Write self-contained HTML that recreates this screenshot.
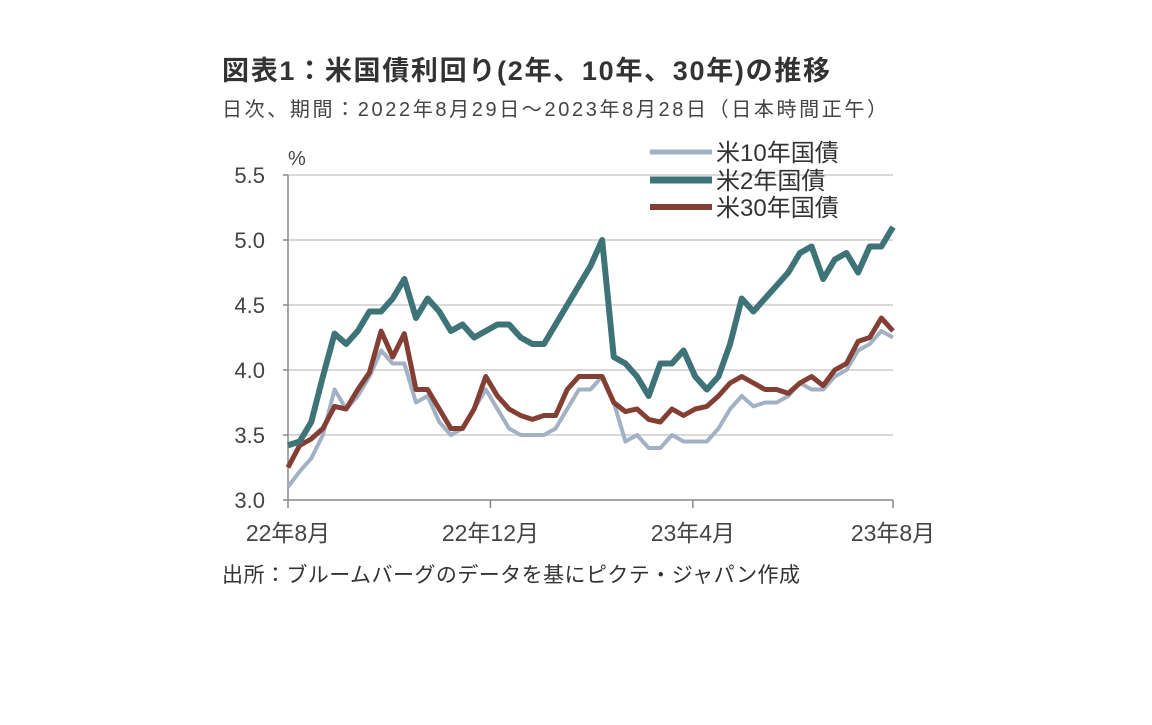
<!DOCTYPE html>
<html><head><meta charset="utf-8"><style>
body{margin:0;background:#fff;width:1152px;height:720px;overflow:hidden;font-family:"Liberation Sans","Noto Sans CJK JP",sans-serif;color:#333}
svg text{font-family:"Liberation Sans","Noto Sans CJK JP",sans-serif}
</style></head><body>
<svg width="1152" height="720">
<text x="222" y="80" font-size="27" font-weight="bold" fill="#333" textLength="608">図表1：米国債利回り(2年、10年、30年)の推移</text>
<text x="222" y="116" font-size="20" fill="#444" textLength="665">日次、期間：2022年8月29日～2023年8月28日（日本時間正午）</text>
<text x="288" y="165" font-size="20" fill="#444">%</text>
<g id="grid"></g><g id="axes"></g><g id="lines"></g>
<g>
<line x1="650" y1="152" x2="712" y2="152" stroke="#a3b1c4" stroke-width="5"/>
<text x="716" y="161" font-size="24" fill="#333">米10年国債</text>
<line x1="650" y1="180" x2="712" y2="180" stroke="#3e7378" stroke-width="7"/>
<text x="716" y="189" font-size="24" fill="#333">米2年国債</text>
<line x1="650" y1="207" x2="712" y2="207" stroke="#843f35" stroke-width="6"/>
<text x="716" y="216" font-size="24" fill="#333">米30年国債</text>
</g>
<text x="222" y="582" font-size="21" fill="#333" textLength="578">出所：ブルームバーグのデータを基にピクテ・ジャパン作成</text>
</svg>
<script>
const yTicks=[3.0,3.5,4.0,4.5,5.0,5.5];
const yTickLabels=["3.0","3.5","4.0","4.5","5.0","5.5"];
const xTickWeeks=[0,17.4,34.8,52];
const xTickLabels=["22年8月","22年12月","23年4月","23年8月"];
const y2=[3.42,3.45,3.6,3.95,4.28,4.2,4.3,4.45,4.45,4.55,4.7,4.4,4.55,4.45,4.3,4.35,4.25,4.3,4.35,4.35,4.25,4.2,4.2,4.35,4.5,4.65,4.8,5.0,4.1,4.05,3.95,3.8,4.05,4.05,4.15,3.95,3.85,3.95,4.2,4.55,4.45,4.55,4.65,4.75,4.9,4.95,4.7,4.85,4.9,4.75,4.95,4.95,5.1];
const y10=[3.1,3.22,3.32,3.5,3.85,3.7,3.8,3.95,4.15,4.05,4.05,3.75,3.8,3.6,3.5,3.55,3.7,3.85,3.7,3.55,3.5,3.5,3.5,3.55,3.7,3.85,3.85,3.95,3.75,3.45,3.5,3.4,3.4,3.5,3.45,3.45,3.45,3.55,3.7,3.8,3.72,3.75,3.75,3.8,3.9,3.85,3.85,3.95,4.0,4.15,4.2,4.3,4.25];
const y30=[3.25,3.42,3.47,3.55,3.72,3.7,3.85,3.98,4.3,4.1,4.28,3.85,3.85,3.7,3.55,3.55,3.7,3.95,3.8,3.7,3.65,3.62,3.65,3.65,3.85,3.95,3.95,3.95,3.75,3.68,3.7,3.62,3.6,3.7,3.65,3.7,3.72,3.8,3.9,3.95,3.9,3.85,3.85,3.82,3.9,3.95,3.88,4.0,4.05,4.22,4.25,4.4,4.3];
const NS="http://www.w3.org/2000/svg";
const X=w=>288+w*(605/52), Y=v=>500-(v-3)*130;
const grid=document.getElementById('grid'),axes=document.getElementById('axes'),lines=document.getElementById('lines');
function mk(t,a,p){const e=document.createElementNS(NS,t);for(const k in a)e.setAttribute(k,a[k]);p.appendChild(e);return e;}
yTicks.forEach((v,i)=>{
 if(i>0){const g=mk('line',{x1:288,x2:893,y1:Y(v),y2:Y(v),stroke:'#d9d9d9','stroke-width':2},grid);
 
 }
 const tk=mk('line',{x1:283,x2:288,y1:Y(v),y2:Y(v),stroke:'#888','stroke-width':1.5},axes);
 
 
 const t=mk('text',{x:265,y:Y(v)+8,'text-anchor':'end','font-size':22,fill:'#444'},axes);t.textContent=yTickLabels[i];
 
 
});
const ya=mk('line',{x1:288,x2:288,y1:175,y2:500,stroke:'#888','stroke-width':1.5},axes);


const xa=mk('line',{x1:288,x2:893,y1:500,y2:500,stroke:'#888','stroke-width':1.5},axes);


xTickWeeks.forEach((w,i)=>{
 const tk=mk('line',{x1:X(w),x2:X(w),y1:500,y2:508,stroke:'#888','stroke-width':1.5},axes);
 
 
 const t=mk('text',{x:X(w),y:541,'text-anchor':'middle','font-size':23,fill:'#444'},axes);t.textContent=xTickLabels[i];
 
 
});
function series(d,c,w,n){const p=mk('polyline',{points:d.map((v,i)=>X(i)+','+Y(v)).join(' '),fill:'none',stroke:c,'stroke-width':w,'stroke-linejoin':'round'},lines);
 
 }
series(y10,'#a3b1c4',4,'line-10y');
series(y30,'#843f35',5,'line-30y');
series(y2,'#3e7378',6,'line-2y');
</script>
</body></html>
